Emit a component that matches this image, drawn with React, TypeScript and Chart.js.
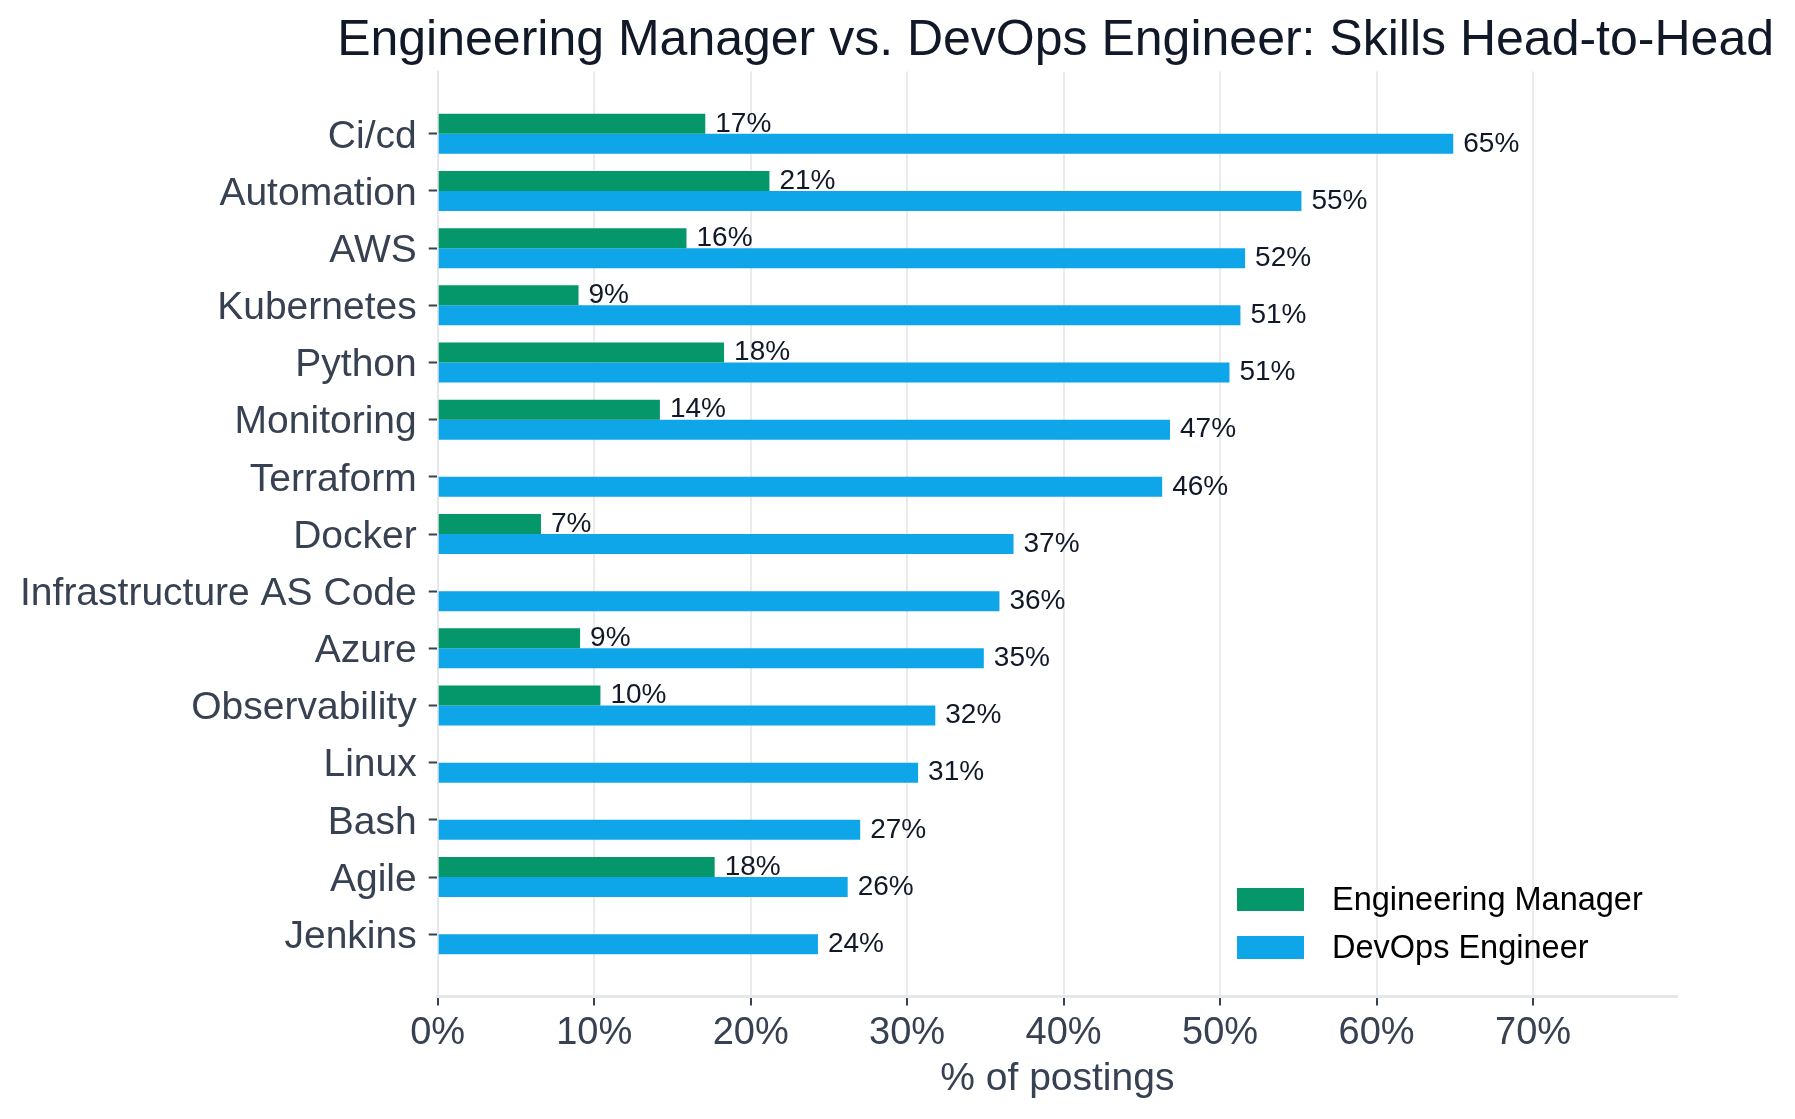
import React, { useEffect, useRef } from 'react';
import { Chart, registerables } from 'chart.js';

Chart.register(...registerables);

const FONT = '"Liberation Sans", Arial, Helvetica, sans-serif';

const chartTitle = 'Engineering Manager vs. DevOps Engineer: Skills Head-to-Head';
const xAxisTitle = '% of postings';

const categories = [
  'Ci/cd',
  'Automation',
  'AWS',
  'Kubernetes',
  'Python',
  'Monitoring',
  'Terraform',
  'Docker',
  'Infrastructure AS Code',
  'Azure',
  'Observability',
  'Linux',
  'Bash',
  'Agile',
  'Jenkins',
];

const seriesNames = ['Engineering Manager', 'DevOps Engineer'];
const seriesColors = ['#059669', '#0ea5e9'];

const engineeringManager: (number | null)[] = [
  17.1, 21.2, 15.9, 9.0, 18.3, 14.2, null, 6.6, null, 9.1, 10.4, null, null, 17.7, null,
];
const devopsEngineer: (number | null)[] = [
  64.9, 55.2, 51.6, 51.3, 50.6, 46.8, 46.3, 36.8, 35.9, 34.9, 31.8, 30.7, 27.0, 26.2, 24.3,
];

const xMin = 0;
const xMax = 79.2;
const xStep = 10;

const toPoints = (vals: (number | null)[]) => vals.map((v, i) => ({ x: v, y: i }));

const valueLabelPlugin = {
  id: 'valueLabels',
  afterDatasetsDraw(chart: any) {
    const ctx = chart.ctx;
    ctx.save();
    ctx.font = `28px ${FONT}`;
    ctx.fillStyle = '#111827';
    ctx.textAlign = 'left';
    ctx.textBaseline = 'middle';
    chart.data.datasets.forEach((ds: any, di: number) => {
      const meta = chart.getDatasetMeta(di);
      meta.data.forEach((bar: any, i: number) => {
        const v = ds.data[i]?.x;
        if (v === null || v === undefined) return;
        const p = bar.getProps(['x', 'y'], true);
        ctx.fillText(`${Math.round(v)}%`, p.x + 10, p.y);
      });
    });
    ctx.restore();
  },
};

const insideLegendPlugin = {
  id: 'insideLegend',
  afterDraw(chart: any) {
    const ctx = chart.ctx;
    const { right, bottom } = chart.chartArea;
    const boxLeft = right - 440;
    const boxW = 67;
    const boxH = 23;
    const rowGap = 48;
    const firstRow = bottom - 97;
    ctx.save();
    ctx.font = `32.5px ${FONT}`;
    ctx.textAlign = 'left';
    ctx.textBaseline = 'middle';
    chart.data.datasets.forEach((ds: any, i: number) => {
      const cy = firstRow + i * rowGap;
      ctx.fillStyle = ds.backgroundColor;
      ctx.fillRect(boxLeft, cy - boxH / 2, boxW, boxH);
      ctx.fillStyle = '#000000';
      ctx.fillText(ds.label, boxLeft + 95, cy + 1.5);
    });
    ctx.restore();
  },
};

export default function App() {
  const canvasRef = useRef<HTMLCanvasElement | null>(null);

  useEffect(() => {
    if (!canvasRef.current) return;
    Chart.defaults.font.family = FONT;
    const chart = new Chart(canvasRef.current, {
      type: 'bar',
      data: {
        datasets: [
          {
            label: seriesNames[0],
            data: toPoints(engineeringManager) as any,
            backgroundColor: seriesColors[0],
            borderWidth: 0,
          },
          {
            label: seriesNames[1],
            data: toPoints(devopsEngineer) as any,
            backgroundColor: seriesColors[1],
            borderWidth: 0,
          },
        ],
      },
      options: {
        indexAxis: 'y',
        animation: false,
        responsive: false,
        devicePixelRatio: 1,
        layout: { padding: { left: 0, right: 21, top: 0, bottom: 0 } },
        datasets: { bar: { categoryPercentage: 0.7, barPercentage: 1.0 } } as any,
        scales: {
          x: {
            type: 'linear',
            position: 'bottom',
            min: xMin,
            max: xMax,
            ticks: {
              stepSize: xStep,
              includeBounds: false,
              maxRotation: 0,
              color: '#374151',
              font: { size: 38, family: FONT },
              padding: 5,
              callback: (v: any) => `${v}%`,
            },
            grid: {
              color: '#ebebee',
              lineWidth: 2,
              tickLength: 9,
              tickColor: '#374151',
              tickWidth: 2,
            },
            border: { display: true, color: '#e5e7eb', width: 3 },
            title: {
              display: true,
              text: xAxisTitle,
              color: '#374151',
              font: { size: 39, family: FONT },
              padding: { top: 0, bottom: 16 },
            },
            afterFit: (s: any) => {
              s.height = 122.5;
            },
          } as any,
          y: {
            type: 'linear',
            reverse: true,
            offset: false,
            min: -1.09,
            max: categories.length - 1 + 1.09,
            afterBuildTicks: (s: any) => {
              s.ticks = s.ticks.filter(
                (t: any) => Number.isInteger(t.value) && t.value >= 0 && t.value < categories.length
              );
            },
            ticks: {
              stepSize: 1,
              includeBounds: false,
              autoSkip: false,
              color: '#374151',
              font: { size: 39, family: FONT },
              padding: 12,
              labelOffset: 3,
              callback: (v: any) => categories[v] ?? '',
            },
            grid: {
              offset: false,
              drawOnChartArea: false,
              drawTicks: true,
              tickLength: 9,
              tickColor: '#374151',
              tickWidth: 2,
            },
            border: { display: true, color: '#e5e7eb', width: 2 },
            afterFit: (s: any) => {
              s.width = 437.7;
            },
          } as any,
          yRightSpace: {
            type: 'linear',
            axis: 'y',
            position: 'right',
            display: true,
            ticks: { display: false },
            grid: { display: false, drawTicks: false },
            border: { display: false },
            afterFit: (s: any) => {
              s.width = 97;
            },
          } as any,
        },
        plugins: {
          legend: { display: false },
          tooltip: { enabled: false },
          title: {
            display: true,
            text: chartTitle,
            fullSize: true,
            align: 'end',
            color: '#111827',
            font: { size: 50, weight: 'normal', family: FONT },
            padding: { top: 11, bottom: 0.5 },
          },
        },
      } as any,
      plugins: [valueLabelPlugin, insideLegendPlugin],
    });
    return () => chart.destroy();
  }, []);

  return (
    <div style={{ position: 'fixed', left: 0, top: 0, width: 1795, height: 1119, background: '#ffffff' }}>
      <canvas ref={canvasRef} width={1795} height={1119} style={{ display: 'block', width: 1795, height: 1119 }} />
    </div>
  );
}
